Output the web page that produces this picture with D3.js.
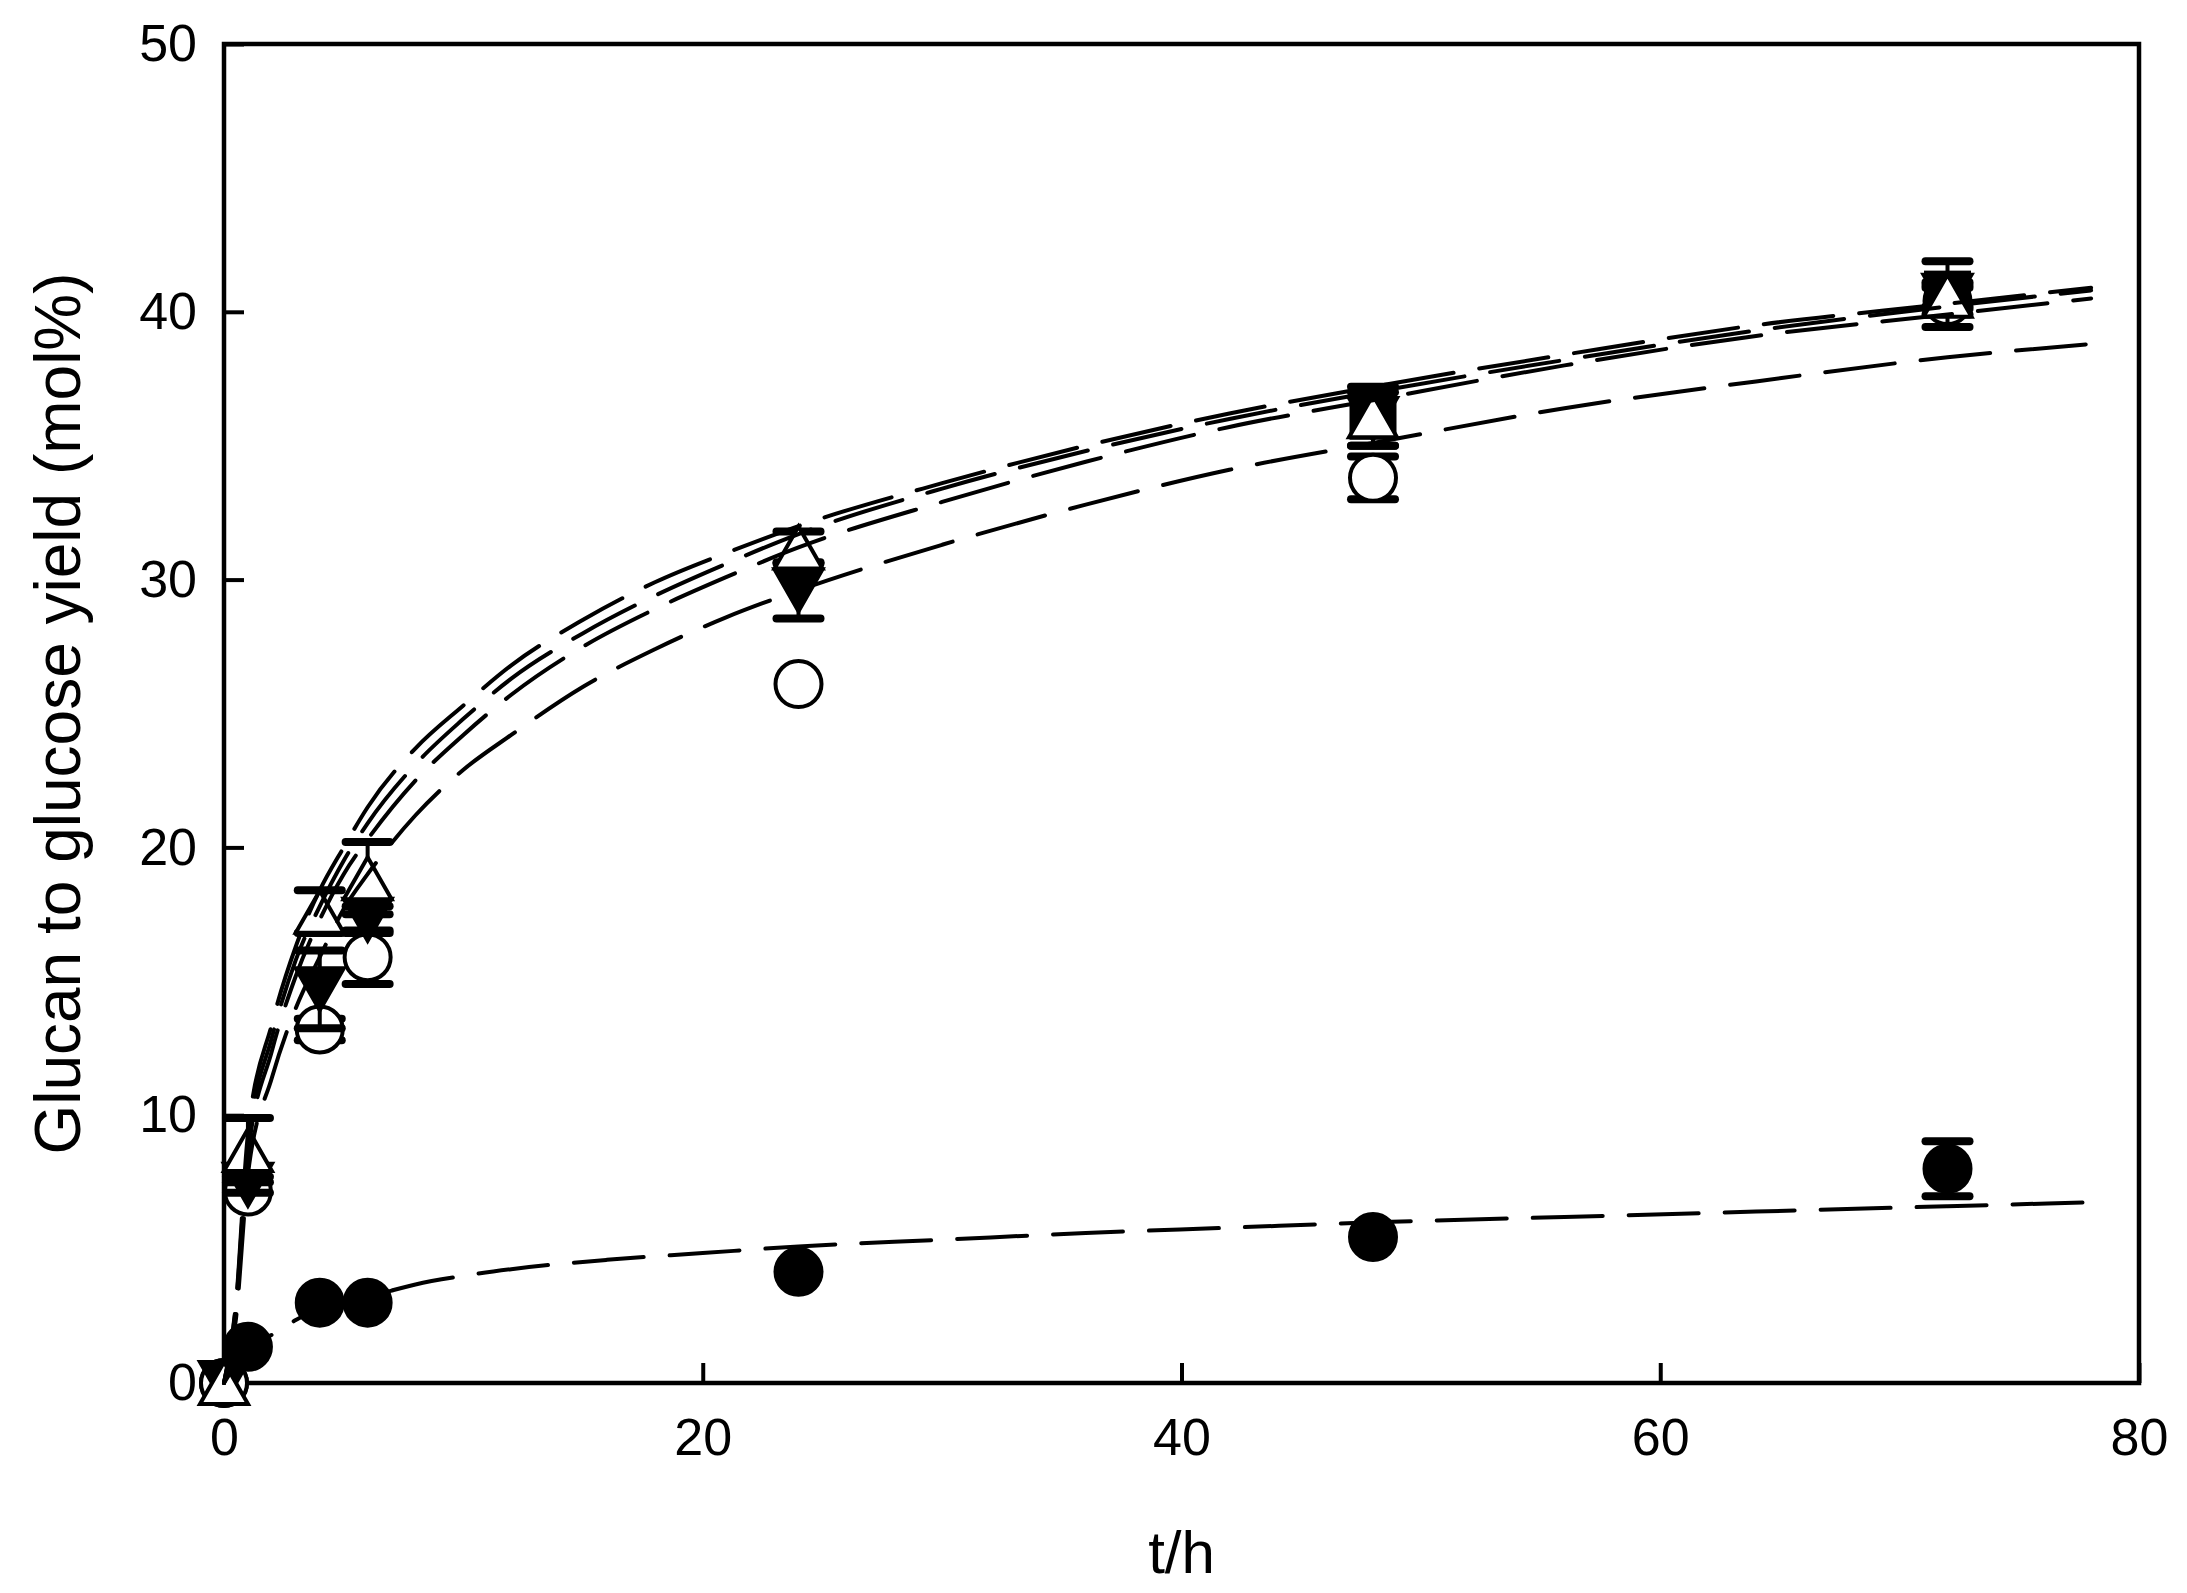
<!DOCTYPE html>
<html>
<head>
<meta charset="utf-8">
<script src="https://d3js.org/d3.v7.min.js"></script>
<style>
  body { margin: 0; background: #fff; }
  svg { display: block; }
</style>
</head>
<body>
<svg id="chart"></svg>
<script>
// sampling times (h)
var times = [0, 1, 4, 6, 24, 48, 72];

// measured yields (mol%) and error half-widths; null = hidden behind other symbols
var filledCircleVals = [0, 1.35, 3.0, 3.0, 4.15, 5.45, 8.0];
var filledCircleErr  = [0, 0, 0, 0, 0, 0, 1.03];
var openCircleVals   = [0, 7.15, 13.2, 15.9, 26.1, 33.8, 40.4];
var openCircleErr    = [0, 0, 0.4, 1.0, 0, 0.8, 0.5];
var filledSquareVals = [null, null, null, null, null, 36.1, 40.66];
var filledSquareErr  = [0, 0, 0, 0, 0, 0, 1.23];
var downTriVals      = [0, 7.4, 14.7, 17.3, 29.6, 36.0, 40.6];
var downTriErr       = [0, 0.3, 1.45, 0.5, 1.05, 1.0, 0.5];
var upTriVals        = [0, 8.7, 17.6, 18.85, 31.2, 36.1, 40.6];
var upTriErr         = [0, 1.2, 0.8, 1.35, 0.6, 1.1, 0.4];

// fitted curves
var fitTimesUpper = [0, 0.5, 1, 2, 3, 4, 5, 6, 8, 10, 12, 15, 18, 21, 24, 30, 36, 42, 48, 56, 64, 72, 78];
var fitA = [0, 3.0, 9.3, 13.4, 16.3, 18.4, 20.0, 21.5, 23.7, 25.3, 26.8, 28.5, 29.9, 31.0, 32.0, 33.6, 35.0, 36.2, 37.2, 38.4, 39.5, 40.3, 40.9];
var fitB = [0, 2.7, 8.5, 12.4, 15.2, 17.3, 19.0, 20.3, 22.5, 24.2, 25.7, 27.5, 28.9, 30.1, 31.2, 32.9, 34.4, 35.7, 36.7, 38.0, 39.1, 39.9, 40.5];
var fitC = [0, 2.9, 8.9, 12.9, 15.8, 17.8, 19.5, 20.9, 23.1, 24.8, 26.3, 28.0, 29.4, 30.6, 31.7, 33.4, 34.8, 36.0, 37.0, 38.2, 39.3, 40.2, 40.8];
var fitD = [0, 2.4, 7.8, 11.4, 14.0, 15.9, 17.7, 19.0, 21.2, 22.9, 24.2, 26.0, 27.4, 28.6, 29.6, 31.3, 32.8, 34.1, 35.1, 36.4, 37.4, 38.3, 38.8];
var fitTimesLower = [0, 0.5, 1, 2, 3, 4, 6, 7, 8, 10, 12, 16, 20, 24, 30, 36, 42, 48, 56, 64, 72, 78];
var fitE = [0, 0.7, 1.35, 1.8, 2.35, 2.8, 3.2, 3.45, 3.68, 4.0, 4.25, 4.6, 4.85, 5.1, 5.35, 5.6, 5.8, 6.0, 6.2, 6.4, 6.6, 6.75];

var xTicks = [0, 20, 40, 60, 80];
var yTicks = [0, 10, 20, 30, 40, 50];
var xTitle = "t/h";
var yTitle = "Glucan to glucose yield (mol%)";

var W = 2187, H = 1593;
var plotLeft = 224, plotRight = 2139, plotTop = 44, plotBottom = 1383;
var FONT = "'Liberation Sans', Arial, Helvetica, sans-serif";

var svg = d3.select("#chart").attr("width", W).attr("height", H);
svg.append("rect").attr("width", W).attr("height", H).attr("fill", "#fff");

var x = d3.scaleLinear().domain([0, 80]).range([plotLeft, plotRight]);
var y = d3.scaleLinear().domain([0, 50]).range([plotBottom, plotTop]);

// frame
svg.append("rect")
  .attr("x", plotLeft).attr("y", plotTop)
  .attr("width", plotRight - plotLeft).attr("height", plotBottom - plotTop)
  .attr("fill", "none").attr("stroke", "#000").attr("stroke-width", 4.5);

// axes (ticks inward)
var xAxis = d3.axisBottom(x).tickValues(xTicks).tickSizeInner(-20).tickSizeOuter(0).tickPadding(35);
var gx = svg.append("g").attr("transform", "translate(0," + plotBottom + ")").call(xAxis);
var yAxis = d3.axisLeft(y).tickValues(yTicks).tickSizeInner(-20).tickSizeOuter(0).tickPadding(27);
var gy = svg.append("g").attr("transform", "translate(" + plotLeft + ",0)").call(yAxis);
[gx, gy].forEach(function(g) {
  g.select(".domain").remove();
  g.selectAll(".tick line").attr("stroke", "#000").attr("stroke-width", 4);
  g.selectAll(".tick text").attr("fill", "#000")
    .style("font-family", FONT).style("font-size", "52px");
});

// titles
svg.append("text")
  .attr("x", (plotLeft + plotRight) / 2).attr("y", 1573)
  .attr("text-anchor", "middle")
  .style("font-family", FONT).style("font-size", "60px")
  .text(xTitle);
svg.append("text")
  .attr("transform", "translate(80," + ((plotTop + plotBottom) / 2) + ") rotate(-90)")
  .attr("text-anchor", "middle")
  .style("font-family", FONT).style("font-size", "64px")
  .text(yTitle);

// symbol drawers
function drawCircle(g, cx, cy, filled) {
  g.append("circle").attr("cx", cx).attr("cy", cy).attr("r", 23)
    .attr("fill", filled ? "#000" : "#fff").attr("stroke", "#000").attr("stroke-width", 4);
}
function drawSquare(g, cx, cy) {
  g.append("rect").attr("x", cx - 21.5).attr("y", cy - 21.5).attr("width", 43).attr("height", 43)
    .attr("fill", "#000").attr("stroke", "#000").attr("stroke-width", 4);
}
function drawTriangle(g, cx, cy, up, filled) {
  var w = 48, h = 42, s = up ? 1 : -1;
  var p = "M" + cx + "," + (cy - s * h / 2) +
          "L" + (cx + w / 2) + "," + (cy + s * h / 2) +
          "L" + (cx - w / 2) + "," + (cy + s * h / 2) + "Z";
  g.append("path").attr("d", p)
    .attr("fill", filled ? "#000" : "#fff").attr("stroke", "#000").attr("stroke-width", 4);
}

function drawSeries(vals, errs, drawSym) {
  var g = svg.append("g");
  times.forEach(function(t, i) {
    if (vals[i] === null) return;
    var cx = x(t), cy = y(vals[i]);
    if (errs[i] > 0) {
      var y1 = y(vals[i] + errs[i]), y2 = y(vals[i] - errs[i]);
      g.append("line").attr("x1", cx).attr("x2", cx).attr("y1", y1).attr("y2", y2)
        .attr("stroke", "#000").attr("stroke-width", 4);
      [y1, y2].forEach(function(yy) {
        g.append("line").attr("x1", cx - 22).attr("x2", cx + 22).attr("y1", yy).attr("y2", yy)
          .attr("stroke", "#000").attr("stroke-width", 8).attr("stroke-linecap", "round");
      });
    }
    drawSym(g, cx, cy);
  });
}

drawSeries(filledCircleVals, filledCircleErr, function(g, cx, cy) { drawCircle(g, cx, cy, true); });
drawSeries(openCircleVals, openCircleErr, function(g, cx, cy) { drawCircle(g, cx, cy, false); });
drawSeries(filledSquareVals, filledSquareErr, function(g, cx, cy) { drawSquare(g, cx, cy); });
drawSeries(downTriVals, downTriErr, function(g, cx, cy) { drawTriangle(g, cx, cy, false, true); });
drawSeries(upTriVals, upTriErr, function(g, cx, cy) { drawTriangle(g, cx, cy, true, false); });

// fitted curves on top
var line = d3.line()
  .x(function(d) { return x(d[0]); })
  .y(function(d) { return y(d[1]); })
  .curve(d3.curveMonotoneX);

function drawFit(ts, vs) {
  var pts = ts.map(function(t, i) { return [t, vs[i]]; });
  svg.append("path").datum(pts).attr("d", line)
    .attr("fill", "none").attr("stroke", "#000").attr("stroke-width", 4)
    .attr("stroke-dasharray", "70 26").attr("stroke-linecap", "round");
}
drawFit(fitTimesUpper, fitA);
drawFit(fitTimesUpper, fitB);
drawFit(fitTimesUpper, fitC);
drawFit(fitTimesUpper, fitD);
drawFit(fitTimesLower, fitE);
</script>
</body>
</html>
